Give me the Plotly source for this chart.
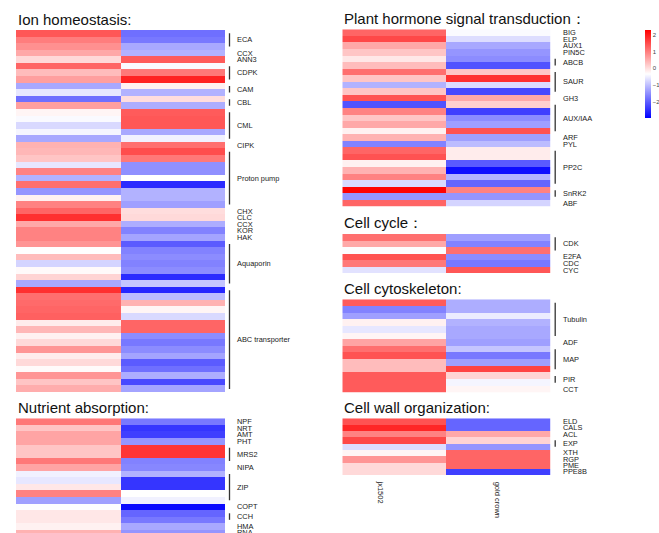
import plotly.graph_objects as go

W, H = 659, 533
samples = ["jx1502", "gold crown"]

# ---------------- data ----------------
ion_groups = ["ECA", "CCX", "ANN3", "CDPK", "CAM", "CBL", "CML", "CIPK", "Proton pump",
              "CHX", "CLC", "CCX", "KOR", "HAK", "Aquaporin", "ABC transporter"]
ion_sizes = [3, 1, 1, 3, 2, 2, 5, 1, 9, 1, 1, 1, 1, 1, 7, 16]
ion_jx = [1.4, 1.0, 0.8, 0.55, 0.05, 1.25, 0.35, 0.65, -1.25, -0.6, -1.85, 0.65, -0.25, -0.4,
          -0.75, -0.45, -1.25, 0.45, 0.4, 0.25, -0.6, 0.95, -1.15, 1.15, -1.45, -0.2, 0.95,
          1.25, 1.8, 0.55, 0.95, 0.95, 0.75, -0.35, 0.35, -0.8, -0.3, 0.1, -1.25, 1.8, 1.15,
          1.2, 1.25, 1.3, -0.15, 0.4, -0.2, 0.05, 0.75, -0.15, 0.05, -0.3, 0.75, 0.25, 0.5]
ion_gc = [-1.85, -1.75, -1.25, -1.15, 1.35, -0.4, 1.05, 1.95, -0.2, -1.15, 0.0, -1.2, 1.35,
          1.4, 1.4, -1.25, -0.5, 1.15, 1.5, 1.05, -1.5, -1.5, -0.35, -2.55, -1.15, -1.15,
          -1.35, 0.0, 0.05, -1.2, -1.65, -1.3, -2.05, -1.65, -1.55, -1.65, -1.55, -2.55,
          -0.95, -2.6, -1.05, 0.45, -0.25, -0.75, 1.25, 1.25, -1.55, -1.75, -1.55, -1.3,
          -2.05, -1.85, -1.2, -2.25, -1.3]

nut_groups = ["NPF", "NRT", "AMT", "PHT", "MRS2", "NIPA", "ZIP", "COPT", "CCH", "HMA", "RNA"]
nut_sizes = [1, 1, 1, 1, 3, 1, 5, 1, 2, 1, 1]
nut_jx = [1.05, 0.25, 0.6, 0.6, 0.25, 0.25, 1.05, 0.6, -0.5, -0.6, -0.1, 0.95, -1.35, -0.37,
          -0.1, -0.1, -0.2, 0.45]
nut_gc = [-1.75, -2.45, -2.35, -1.45, 1.75, 1.75, -1.65, -1.6, -1.15, -2.45, -2.45, -0.35,
          -0.5, -2.9, -1.95, -1.75, -1.25, -1.45]

hor_groups = ["BIG", "ELP", "AUX1", "PIN5C", "ABCB", "SAUR", "GH3", "AUX/IAA", "ARF", "PYL",
              "PP2C", "SnRK2", "ABF"]
hor_sizes = [1, 1, 1, 1, 2, 4, 1, 5, 1, 1, 6, 2, 1]
hor_jx = [1.25, 1.55, 0.55, 0.25, -0.1, 0.35, 1.15, 0.25, -1.15, 0.25, 1.45, -2.15, 0.95,
          0.25, 0.55, -0.2, 0.45, -1.65, 1.25, 1.45, -0.2, 0.45, 0.95, -0.75, 2.28, -1.45, 1.25]
hor_gc = [-0.4, -0.7, -1.25, -1.45, -1.55, -2.15, 0.25, 1.8, -0.7, -2.25, 0.55, 0.15, -2.35,
          -1.55, -1.35, 1.45, -1.35, -1.05, -0.15, -0.15, -2.05, -2.85, -1.15, -1.95, 0.95,
          -1.45, -0.8]

cyc_groups = ["CDK", "E2FA", "CDC", "CYC"]
cyc_sizes = [3, 1, 1, 1]
cyc_jx = [1.15, 0.55, -0.37, 1.45, 1.05, -0.65]
cyc_gc = [-1.35, -1.65, 1.15, -1.55, -1.75, 1.4]

sk_groups = ["Tubulin", "ADF", "MAP", "PIR", "CCT"]
sk_sizes = [6, 1, 4, 2, 1]
sk_jx = [1.35, -1.65, -1.35, -0.2, -0.6, -0.25, 0.6, 1.15, 1.45, 0.35, 0.35, 1.35, 1.35, 1.35]
sk_gc = [-1.2, -1.2, -0.55, -1.15, -1.25, -1.25, -1.35, -0.95, -1.75, -1.35, 1.6, 0.1,
         -0.45, -0.25]

cw_groups = ["ELD", "CALS", "ACL", "EXP", "XTH", "RGP", "PME", "PPE8B"]
cw_sizes = [1, 1, 1, 2, 1, 1, 1, 1]
cw_jx = [1.45, 1.9, 0.95, 1.55, -0.7, -0.25, 0.75, 0.05, 0.05]
cw_gc = [-1.95, -1.95, 0.55, 0.1, -1.45, 1.25, 1.25, 1.25, -2.35]

colorbar_ticks = [-2, -1, 0, 1, 2]
z_min, z_max = -3.0, 2.3

# ---------------- layout geometry (pixels) ----------------
cols = {"left": (16.0, 225.0), "right": (342.3, 550.7)}
panels = [
    dict(title="Ion homeostasis:", jx=ion_jx, gc=ion_gc, groups=ion_groups, sizes=ion_sizes,
         col="left", top=30.0, bottom=392.3, rowh=None),
    dict(title="Nutrient absorption:", jx=nut_jx, gc=nut_gc, groups=nut_groups, sizes=nut_sizes,
         col="left", top=418.3, bottom=533.0, rowh=6.55),
    dict(title="Plant hormone signal transduction：", jx=hor_jx, gc=hor_gc, groups=hor_groups,
         sizes=hor_sizes, col="right", top=29.3, bottom=206.7, rowh=None),
    dict(title="Cell cycle：", jx=cyc_jx, gc=cyc_gc, groups=cyc_groups, sizes=cyc_sizes,
         col="right", top=234.0, bottom=273.3, rowh=None),
    dict(title="Cell cytoskeleton:", jx=sk_jx, gc=sk_gc, groups=sk_groups, sizes=sk_sizes,
         col="right", top=299.3, bottom=392.7, rowh=None),
    dict(title="Cell wall organization:", jx=cw_jx, gc=cw_gc, groups=cw_groups, sizes=cw_sizes,
         col="right", top=418.3, bottom=475.0, rowh=None),
]

FONT = "Liberation Sans, Arial, sans-serif"
fig = go.Figure()
annotations, shapes = [], []
layout_axes = {}

for i, p in enumerate(panels, start=1):
    n = len(p["jx"])
    x0, x1 = cols[p["col"]]
    wpx = x1 - x0
    rowh = p["rowh"] or (p["bottom"] - p["top"]) / n
    nvis = (p["bottom"] - p["top"]) / rowh
    z = [[a, b] for a, b in zip(p["jx"], p["gc"])]
    xa = "x" if i == 1 else f"x{i}"
    ya = "y" if i == 1 else f"y{i}"
    fig.add_trace(go.Heatmap(z=z, x=[0, 1], y=list(range(n)), coloraxis="coloraxis",
                             xaxis=xa, yaxis=ya, hoverongaps=False))
    xkey = "xaxis" if i == 1 else f"xaxis{i}"
    ykey = "yaxis" if i == 1 else f"yaxis{i}"
    layout_axes[xkey] = dict(domain=[x0 / W, x1 / W], range=[-0.5, 1.5], visible=False,
                             anchor=ya, fixedrange=True)
    layout_axes[ykey] = dict(domain=[1 - p["bottom"] / H, 1 - p["top"] / H],
                             range=[nvis - 0.5, -0.5], visible=False, anchor=xa, fixedrange=True)
    # title
    annotations.append(dict(text=p["title"], xref=f"{xa} domain", yref=f"{ya} domain",
                            x=0, y=1, xanchor="left", yanchor="middle", yshift=11,
                            showarrow=False, font=dict(family=FONT, size=15, color="#111")))
    # group labels and brackets
    start = 0
    for g, s in zip(p["groups"], p["sizes"]):
        first, last = start, start + s - 1
        annotations.append(dict(text=g, xref=f"{xa} domain", yref=ya,
                                x=1 + 10 / wpx, y=(first + last) / 2,
                                xanchor="left", yanchor="middle", showarrow=False,
                                font=dict(family=FONT, size=7.4, color="#1a1a1a")))
        if s > 1:
            shapes.append(dict(type="line", xref=f"{xa} domain", yref=ya,
                               x0=1 + 4.5 / wpx, x1=1 + 4.5 / wpx, y0=first, y1=last,
                               line=dict(color="#333", width=1.3)))
        start += s

# sample labels under the last right panel
annotations.append(dict(text=samples[0], xref="paper", yref="paper", x=380 / W, y=1 - 478 / H,
                        xanchor="center", yanchor="top", textangle=90, showarrow=False,
                        font=dict(family=FONT, size=7.5, color="#222")))
annotations.append(dict(text=samples[1], xref="paper", yref="paper", x=498.3 / W, y=1 - 480 / H,
                        xanchor="center", yanchor="top", textangle=90, showarrow=False,
                        font=dict(family=FONT, size=7.5, color="#222")))

fig.update_layout(
    width=W, height=H, margin=dict(l=0, r=0, t=0, b=0),
    paper_bgcolor="white", plot_bgcolor="white", showlegend=False,
    annotations=annotations, shapes=shapes,
    coloraxis=dict(
        cmin=z_min, cmax=z_max,
        colorscale=[[0, "rgb(0,0,255)"], [0.5, "rgb(255,255,255)"], [1, "rgb(255,0,0)"]],
        colorbar=dict(x=645 / W, xanchor="left", y=1 - 30 / H, yanchor="top",
                      len=88 / H, lenmode="fraction", thickness=6, thicknessmode="pixels",
                      outlinewidth=0, xpad=0, ypad=0, tickvals=colorbar_ticks, ticks="",
                      tickfont=dict(family=FONT, size=6, color="#444")),
    ),
    **layout_axes,
)

fig.write_html("out.html", config={"displayModeBar": False},
               post_script="document.body.style.margin='0';document.body.style.overflow='hidden';")
